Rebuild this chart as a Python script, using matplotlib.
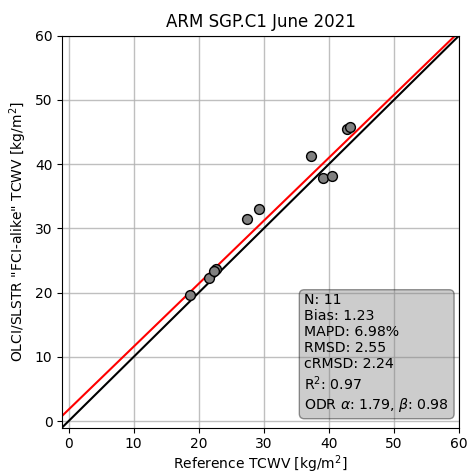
import numpy as np
import matplotlib.pyplot as plt

ref = [18.6, 21.5, 22.6, 22.4, 27.4, 29.2, 37.2, 39.1, 40.5, 42.8, 43.3]
sat = [19.7, 22.3, 23.7, 23.4, 31.5, 33.0, 41.2, 37.8, 38.2, 45.5, 45.7]
odr_a, odr_b = 1.79, 0.98
stats = ["N: 11", "Bias: 1.23", "MAPD: 6.98%", "RMSD: 2.55", "cRMSD: 2.24",
         r"R$^2$: 0.97", r"ODR $\alpha$: 1.79, $\beta$: 0.98"]

fig = plt.figure(figsize=(4.67, 4.75), dpi=100)
ax = fig.add_axes([0.133, 0.1, 0.85, 0.825])

lim = np.array([-1, 60])
ax.plot(lim, lim, color="black", lw=1.5, zorder=2)
ax.plot(lim, odr_a + odr_b*lim, color="red", lw=1.5, zorder=2)
ax.scatter(ref, sat, s=50, c="grey", edgecolors="black", linewidths=1, zorder=3)

ax.set_xlim(-1, 60)
ax.set_ylim(-1, 60)
ax.set_xticks(range(0, 61, 10))
ax.set_yticks(range(0, 61, 10))
ax.grid(True, color="#b0b0b0", lw=1, alpha=0.8)
ax.set_axisbelow(True)
ax.set_title("ARM SGP.C1 June 2021")
ax.set_xlabel("Reference TCWV [kg/m$^2$]", labelpad=1.5)
ax.set_ylabel('OLCI/SLSTR "FCI-alike" TCWV [kg/m$^2$]')

ax.text(0.975, 0.035, "\n".join(stats), transform=ax.transAxes, ha="left",
        va="bottom", fontsize=10.2, zorder=4,
        bbox=dict(boxstyle="round,pad=0.35", facecolor="grey", alpha=0.4))
# right align box by moving its left edge
t = ax.texts[-1]
fig.canvas.draw()
bb = t.get_window_extent().transformed(ax.transAxes.inverted())
t.set_x(0.975 - (bb.x1 - bb.x0))

plt.savefig("out.png", dpi=100)
